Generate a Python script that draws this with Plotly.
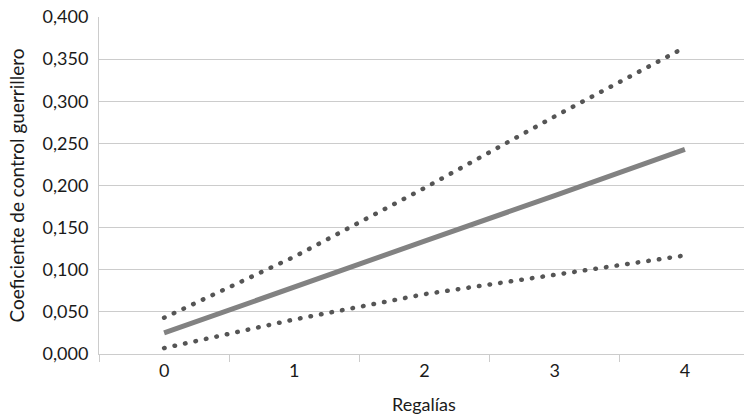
import plotly.graph_objects as go

# Royalties (categorical x) and estimated guerrilla control coefficient
regalias = ["0", "1", "2", "3", "4"]
coef_estimado = [0.025, 0.080, 0.134, 0.188, 0.243]
limite_superior = [0.043, 0.1155, 0.197, 0.282, 0.364]
limite_inferior = [0.007, 0.041, 0.071, 0.094, 0.117]

y_ticks = [0.0, 0.05, 0.10, 0.15, 0.20, 0.25, 0.30, 0.35, 0.40]

FONT = "Lato"
TEXT = "#1a1a1a"
GRID = "#cccccc"

fig = go.Figure()

# Confidence limits: dotted lines (dots rounded by the script below)
for serie in (limite_superior, limite_inferior):
    fig.add_trace(go.Scatter(
        x=regalias, y=serie, mode="lines",
        line=dict(color="#555555", width=4.5, dash="0.5px,10.2px"),
        showlegend=False, hoverinfo="skip",
    ))

fig.add_trace(go.Scatter(
    x=regalias, y=coef_estimado, mode="lines",
    line=dict(color="#828282", width=5),
    showlegend=False, hoverinfo="skip",
))

fig.add_annotation(
    text="Regalías", x=2, xref="x", y=-0.148, yref="paper",
    yanchor="middle", showarrow=False,
    font=dict(family=FONT, size=18, color=TEXT),
)

fig.update_layout(
    width=744, height=418,
    margin=dict(l=99, r=0, t=17, b=64),
    plot_bgcolor="white", paper_bgcolor="white",
    separators=", ",
    font=dict(family=FONT, size=18, color=TEXT),
    xaxis=dict(
        type="category", range=[-0.5, 4.454],
        tickson="boundaries", ticks="outside", ticklen=7,
        tickcolor=GRID, tickwidth=1,
        showline=True, linecolor=GRID, linewidth=1,
        showgrid=False, zeroline=False,
        tickfont=dict(family=FONT, size=18, color=TEXT),
    ),
    yaxis=dict(
        range=[0, 0.4], tickvals=y_ticks, tickformat=".3f",
        showgrid=True, gridcolor=GRID, gridwidth=1,
        showline=True, linecolor=GRID, linewidth=1,
        zeroline=False, ticks="", ticklabelstandoff=6,
        tickfont=dict(family=FONT, size=18, color=TEXT),
        title=dict(text="Coeficiente de control guerrillero",
                   font=dict(family=FONT, size=19, color=TEXT), standoff=12),
    ),
)

round_dots = """
var gd = document.getElementById('{plot_id}');
function roundDots() {
  gd.querySelectorAll('.scatterlayer path.js-line').forEach(function (p) {
    var d = p.style.strokeDasharray;
    if (d && d !== 'none') { p.style.strokeLinecap = 'round'; }
  });
}
roundDots();
gd.on('plotly_afterplot', roundDots);
"""

fig.write_html("out.html", post_script=round_dots)
